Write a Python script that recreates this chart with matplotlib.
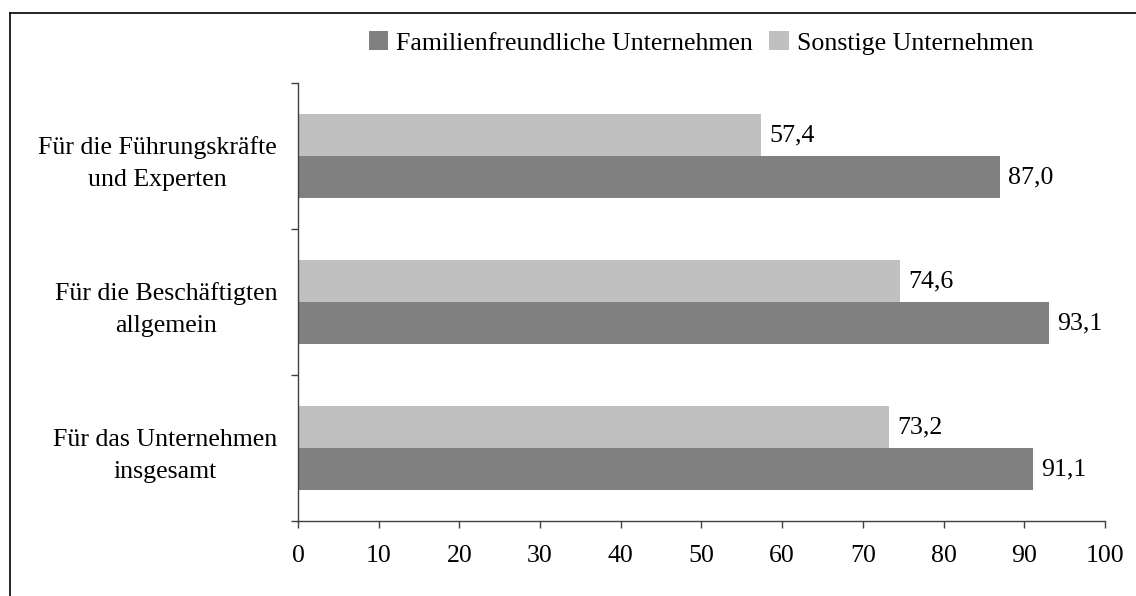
import matplotlib
matplotlib.use("Agg")
import matplotlib.pyplot as plt
from matplotlib.patches import Patch
from matplotlib.lines import Line2D

plt.rcParams["font.family"] = ["Liberation Serif", "DejaVu Serif"]

# ── data ────────────────────────────────────────────────────────────────
categories = [
    "Für die Führungskräfte\nund Experten",
    "Für die Beschäftigten\nallgemein",
    "Für das Unternehmen\ninsgesamt",
]
familienfreundlich = [87.0, 93.1, 91.1]
sonstige = [57.4, 74.6, 73.2]
series_names = ["Familienfreundliche Unternehmen", "Sonstige Unternehmen"]
x_ticks = [0, 10, 20, 30, 40, 50, 60, 70, 80, 90, 100]

DARK = "#808080"
LIGHT = "#c0c0c0"
AXIS = "#404040"
FS = 18.6

fig = plt.figure(figsize=(11.36, 5.96), dpi=100)
ax = fig.add_axes([0.2623, 0.1258, 0.9727 - 0.2623, 0.8607 - 0.1258])

n = len(categories)
ypos = [n - 1 - i for i in range(n)]
h = 0.288

ax.barh([y + h / 2 for y in ypos], sonstige, height=h, color=LIGHT)
ax.barh([y - h / 2 for y in ypos], familienfreundlich, height=h, color=DARK)

for y, v in zip(ypos, sonstige):
    ax.text(v + 1.0, y + h / 2, f"{v:.1f}".replace(".", ","),
            va="center", ha="left", fontsize=FS)
for y, v in zip(ypos, familienfreundlich):
    ax.text(v + 1.0, y - h / 2, f"{v:.1f}".replace(".", ","),
            va="center", ha="left", fontsize=FS)

ax.set_xlim(0, 100)
ax.set_ylim(-0.5, n - 0.5)
ax.set_xticks(x_ticks)
ax.set_xticklabels([str(t) for t in x_ticks], fontsize=FS)

# boundary ticks (Excel style), labels at centres
ax.set_yticks([i - 0.5 for i in range(n + 1)])
ax.set_yticklabels([])
ax.set_yticks(ypos, minor=True)
ax.set_yticklabels(categories, minor=True, fontsize=FS,
                   ha="right", multialignment="center")
for lbl in ax.get_yticklabels(minor=True):
    lbl.set_linespacing(1.6)
ax.tick_params(axis="y", which="minor", length=0, pad=15)
ax.tick_params(axis="y", which="major", length=5, width=1.0, color=AXIS)
ax.tick_params(axis="x", length=5, width=1.0, color=AXIS, pad=12)

for s in ["top", "right"]:
    ax.spines[s].set_visible(False)
for s in ["left", "bottom"]:
    ax.spines[s].set_color(AXIS)
    ax.spines[s].set_linewidth(1.0)

handles = [Patch(facecolor=DARK, edgecolor="none"),
           Patch(facecolor=LIGHT, edgecolor="none")]
fig.legend(handles, series_names, loc="center", ncol=2,
           bbox_to_anchor=(0.617, 1 - 43 / 596), frameon=False, fontsize=FS,
           handlelength=0.75, handleheight=0.75, handletextpad=0.3,
           columnspacing=0.65, borderaxespad=0)

# outer frame (left and top edges visible)
fig.add_artist(Line2D([10 / 1136, 10 / 1136], [0, 1 - 13 / 596],
                      transform=fig.transFigure, color="black", lw=1.2))
fig.add_artist(Line2D([10 / 1136, 1], [1 - 13 / 596, 1 - 13 / 596],
                      transform=fig.transFigure, color="black", lw=1.2))

fig.savefig("out.png", dpi=100)
